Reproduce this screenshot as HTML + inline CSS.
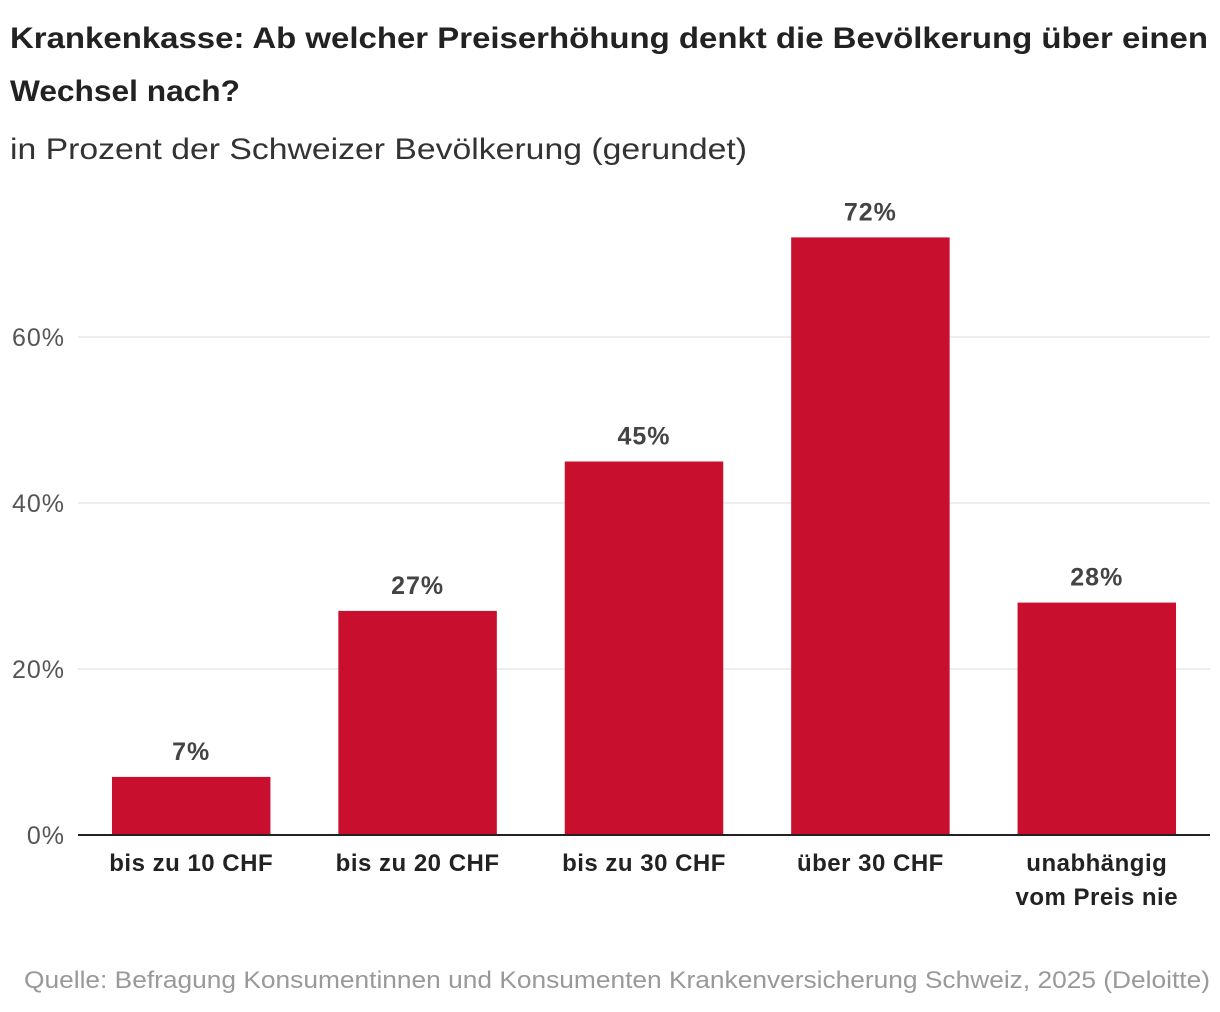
<!DOCTYPE html>
<html><head><meta charset="utf-8"><style>
body{margin:0;background:#fff;width:1220px;height:1012px;overflow:hidden;font-family:"Liberation Sans",sans-serif;}
</style></head><body>
<svg id="c" width="1220" height="1012" style="position:absolute;left:0;top:0" font-family="Liberation Sans, sans-serif">
<text x="10" y="48" font-size="30" font-weight="bold" fill="#222" textLength="1198" lengthAdjust="spacingAndGlyphs">Krankenkasse: Ab welcher Preiserhöhung denkt die Bevölkerung über einen</text>
<text x="10" y="101" font-size="30" font-weight="bold" fill="#222" textLength="230" lengthAdjust="spacingAndGlyphs">Wechsel nach?</text>
<text x="10" y="159" font-size="30" fill="#333" textLength="737" lengthAdjust="spacingAndGlyphs">in Prozent der Schweizer Bevölkerung (gerundet)</text>
<text x="24" y="988" font-size="24" fill="#999" textLength="1186" lengthAdjust="spacingAndGlyphs">Quelle: Befragung Konsumentinnen und Konsumenten Krankenversicherung Schweiz, 2025 (Deloitte)</text>
</svg>
<script>
const categories=[["bis zu 10 CHF"],["bis zu 20 CHF"],["bis zu 30 CHF"],["über 30 CHF"],["unabhängig","vom Preis nie"]];
const values=[7,27,45,72,28];
const ticks=[0,20,40,60];
const ns="http://www.w3.org/2000/svg";
const svg=document.getElementById('c');
const x0=78,x1=1210,yBase=835,pxPer=8.3;
const y=v=>yBase-v*pxPer;
const band=(x1-x0)/categories.length;
const pad=0.15;
function el(t,a,txt){const e=document.createElementNS(ns,t);for(const k in a)e.setAttribute(k,a[k]);if(txt!=null)e.textContent=txt;svg.appendChild(e);return e;}
ticks.forEach(t=>{
  if(t>0){const g=el('line',{x1:x0,x2:x1,y1:y(t),y2:y(t),stroke:'#ddd','stroke-width':1});
  
  }
  const l=el('text',{x:65,y:y(t)+9,'text-anchor':'end','font-size':25,fill:'#555','letter-spacing':1},t+'%');
  
  
});
values.forEach((v,i)=>{
  const bx=x0+band*i+band*pad,bw=band*(1-2*pad);
  const r=el('rect',{x:bx,y:y(v),width:bw,height:yBase-y(v),fill:'#c8102e'});
  
  
  const t=el('text',{x:bx+bw/2,y:y(v)-17,'text-anchor':'middle','font-size':25,'font-weight':'bold',fill:'#444','letter-spacing':1},v+'%');
  
  
  categories[i].forEach((s,j)=>{
    const c=el('text',{x:bx+bw/2,y:871+j*34,'text-anchor':'middle','font-size':24,'font-weight':'bold',fill:'#222','letter-spacing':0.5},s);
    
    
  });
});
const b=el('line',{x1:x0,x2:x1,y1:yBase,y2:yBase,stroke:'#222','stroke-width':2});


</script>
</body></html>
